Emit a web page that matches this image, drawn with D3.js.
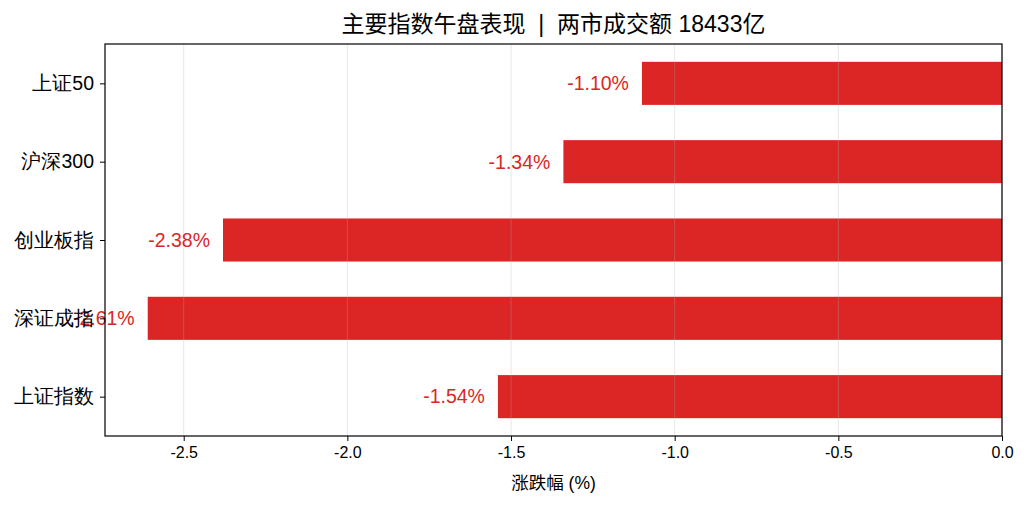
<!DOCTYPE html>
<html>
<head>
<meta charset="utf-8">
<script src="https://cdn.jsdelivr.net/npm/d3@7"></script>
<style>
  body { margin: 0; background: #fff; }
  svg { font-family: "Liberation Sans", Arial, "Noto Sans CJK SC", sans-serif; }
</style>
</head>
<body>
<svg id="chart" width="1026" height="506"></svg>
<script>
const categories = ["上证50", "沪深300", "创业板指", "深证成指", "上证指数"]
const changes = [-1.10, -1.34, -2.38, -2.61, -1.54]
const xTicks = [-2.5, -2.0, -1.5, -1.0, -0.5, 0.0]
const title = "主要指数午盘表现  |  两市成交额 18433亿"
const xLabel = "涨跌幅 (%)"

const margin = { top: 44, right: 24, bottom: 70, left: 105 }
const width = 1026
const height = 506

let svg = d3.select("#chart")
let innerW = width - margin.left - margin.right
let innerH = height - margin.top - margin.bottom

const xScale = d3.scaleLinear().domain([-2.7405, 0]).range([0, innerW])
const yScale = d3.scaleLinear().domain([-0.5025, 4.5025]).range([0, innerH])
const barH = yScale(0.55) - yScale(0)

// plain hyphen for negatives, like the original
const fmt1 = (d) => d.toFixed(1)

let g = svg.append("g").attr("transform", `translate(${margin.left},${margin.top})`)

// bars
g.selectAll(".bar")
  .data(changes)
  .enter()
  .append("rect")
  .attr("class", "bar")
  .attr("x", (d) => xScale(d))
  .attr("width", (d) => xScale(0) - xScale(d))
  .attr("y", (d, i) => yScale(i) - barH / 2)
  .attr("height", barH)
  .attr("fill", "#dc2626")

// grid on top, faint
g.selectAll(".grid")
  .data(xTicks)
  .enter()
  .append("line")
  .attr("class", "grid")
  .attr("x1", (d) => xScale(d))
  .attr("x2", (d) => xScale(d))
  .attr("y1", 0)
  .attr("y2", innerH)
  .attr("stroke", "#b0b0b0")
  .attr("stroke-opacity", 0.3)
  .attr("stroke-width", 1)

// value labels
g.selectAll(".val")
  .data(changes)
  .enter()
  .append("text")
  .attr("class", "val")
  .attr("x", (d) => xScale(d) - 13)
  .attr("y", (d, i) => yScale(i))
  .attr("dy", "0.35em")
  .attr("text-anchor", "end")
  .attr("font-size", 19.5)
  .attr("fill", "#dc2626")
  .text((d) => d.toFixed(2) + "%")

// axes
let x_axis = d3.axisBottom(xScale).tickValues(xTicks).tickFormat(fmt1).tickSize(5).tickPadding(6)
let gx = g.append("g").attr("transform", `translate(0,${innerH})`).call(x_axis)
gx.select(".domain").remove()
gx.selectAll("text").attr("font-size", 16).attr("fill", "#000").attr("font-family", "Liberation Sans, Arial, sans-serif")
gx.selectAll("line").attr("stroke", "#000")

let y_axis = d3.axisLeft(yScale).tickValues(d3.range(categories.length)).tickFormat((i) => categories[i]).tickSize(5).tickPadding(6)
let gy = g.append("g").call(y_axis)
gy.select(".domain").remove()
gy.selectAll("text").attr("font-size", 19.5).attr("fill", "#000")
gy.selectAll("line").attr("stroke", "#000")

// frame
g.append("rect")
  .attr("x", 0).attr("y", 0)
  .attr("width", innerW).attr("height", innerH)
  .attr("fill", "none").attr("stroke", "#000").attr("stroke-width", 1.2)

// labels
svg.append("text")
  .attr("x", margin.left + innerW / 2)
  .attr("y", 32)
  .attr("text-anchor", "middle")
  .attr("font-size", 23)
  .attr("fill", "#000")
  .style("white-space", "pre")
  .text(title)

svg.append("text")
  .attr("x", margin.left + innerW / 2)
  .attr("y", 489)
  .attr("text-anchor", "middle")
  .attr("font-size", 17.5)
  .attr("fill", "#000")
  .text(xLabel)
</script>
</body>
</html>
